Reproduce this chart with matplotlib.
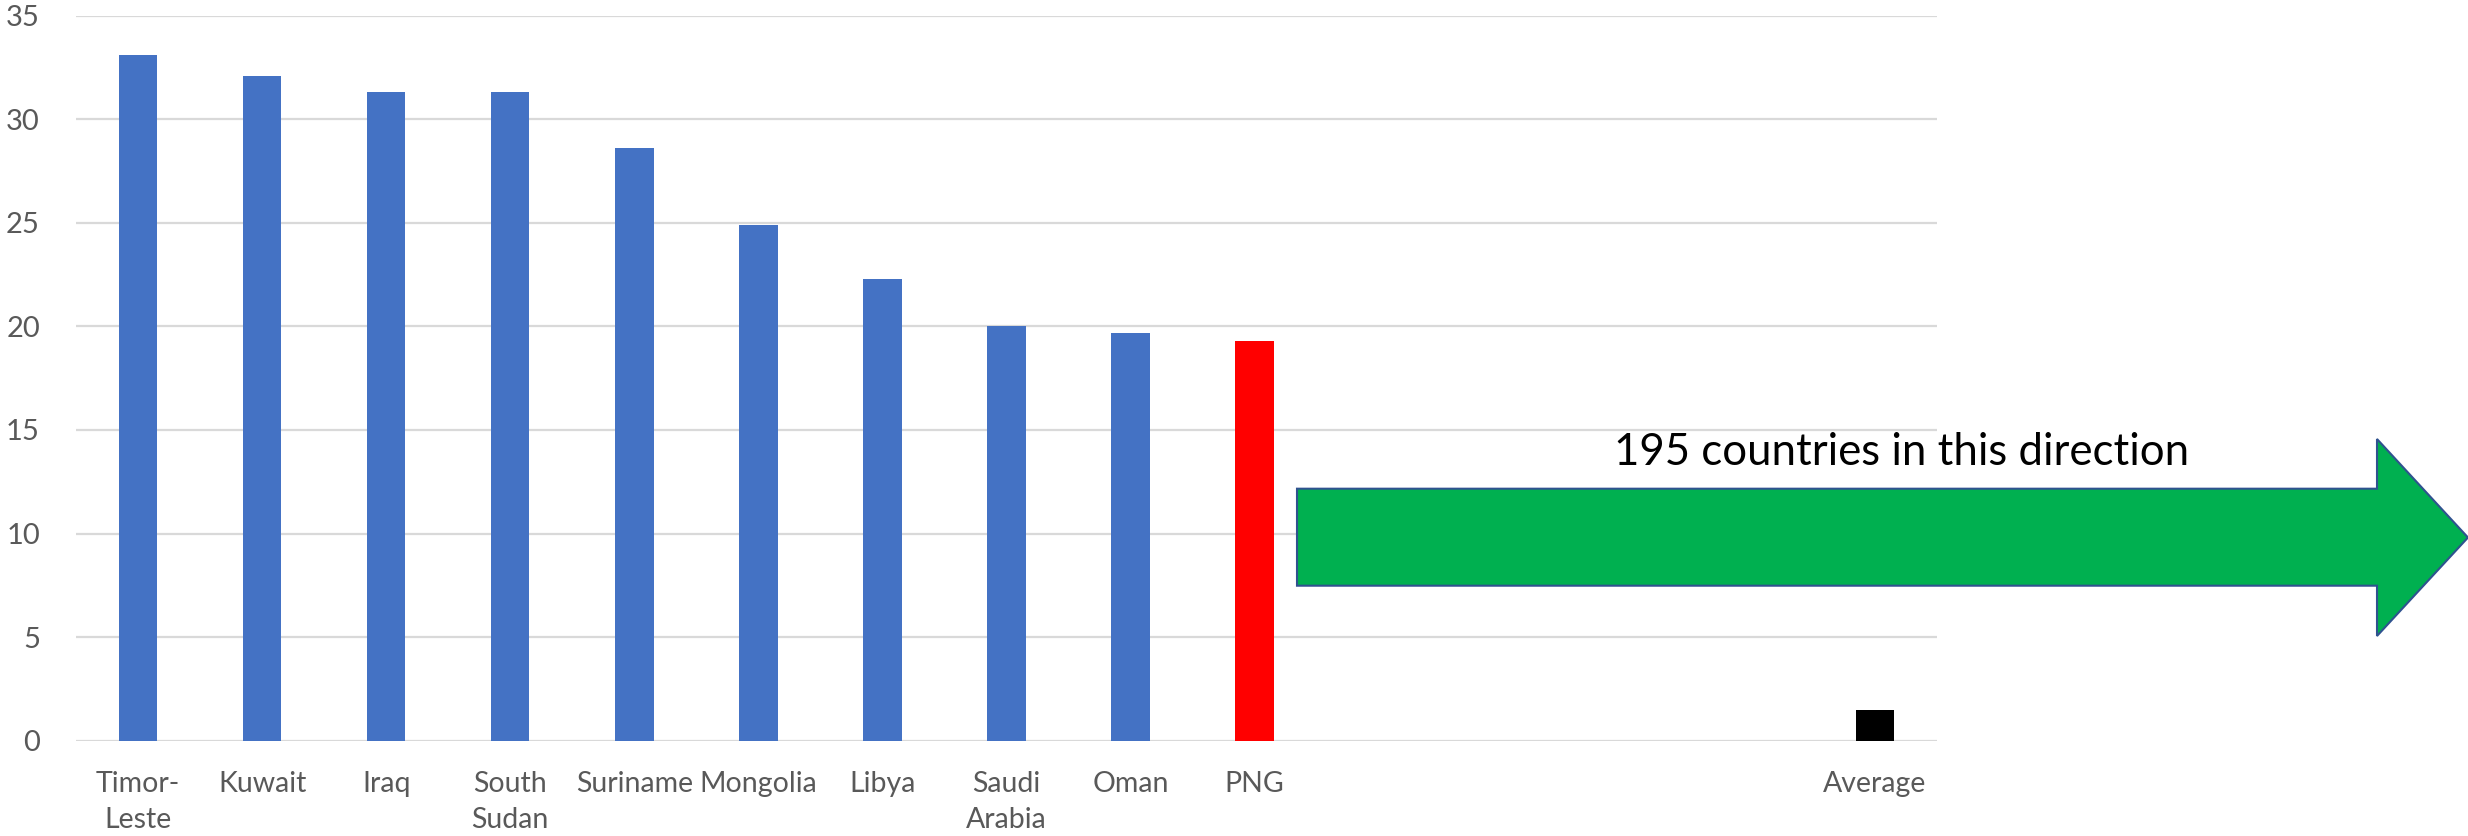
import matplotlib
matplotlib.use("Agg")
import matplotlib.pyplot as plt
from matplotlib.patches import Polygon

plt.rcParams['font.family'] = ['Lato', 'DejaVu Sans']

categories = ["Timor-\nLeste", "Kuwait", "Iraq", "South\nSudan", "Suriname", "Mongolia",
              "Libya", "Saudi\nArabia", "Oman", "PNG", "", "", "", "", "Average"]
values = [33.1, 32.1, 31.3, 31.3, 28.6, 24.9, 22.3, 20.0, 19.7, 19.3,
          None, None, None, None, 1.5]
colors = ["#4472C4"] * 9 + ["#FF0000"] + ["none"] * 4 + ["#000000"]
yticks = [0, 5, 10, 15, 20, 25, 30, 35]
arrow_label = "195 countries in this direction"

W, H = 2468, 836
fig = plt.figure(figsize=(W / 100, H / 100), dpi=100)
ax = fig.add_axes([76 / W, 1 - 740.7 / H, (1937 - 76) / W, (740.7 - 15.5) / H])

xs = list(range(len(categories)))
for x, v, c in zip(xs, values, colors):
    if v is not None:
        ax.bar(x, v, width=0.31, color=c, zorder=3)

ax.set_xlim(-0.5, len(categories) - 0.5)
ax.set_ylim(0, 35)
ax.set_yticks(yticks)
ax.set_xticks(xs)
ax.set_xticklabels(categories, linespacing=1.45)
ax.tick_params(axis='y', length=0, pad=26, labelsize=21, labelcolor="#595959")
ax.tick_params(axis='x', length=0, pad=22, labelsize=20.5, labelcolor="#595959")
ax.grid(axis='y', color="#D9D9D9", linewidth=1.6, zorder=0)
ax.set_axisbelow(True)
for s in ax.spines.values():
    s.set_visible(False)

# Arrow annotation (figure pixel coords converted to fractions)
pts_px = [(1297, 488.7), (2377, 488.7), (2377, 439), (2468, 537.5),
          (2377, 636), (2377, 585.7), (1297, 585.7)]
pts = [(x / W, 1 - y / H) for x, y in pts_px]
arrow = Polygon(pts, closed=True, facecolor="#00B050", edgecolor="#2F528F",
                linewidth=1.5, transform=fig.transFigure, zorder=5)
fig.add_artist(arrow)
fig.text(1902 / W, 1 - 452 / H, arrow_label, ha='center', va='center',
         fontsize=31.5, color="black")

fig.savefig("out.png", dpi=100)
